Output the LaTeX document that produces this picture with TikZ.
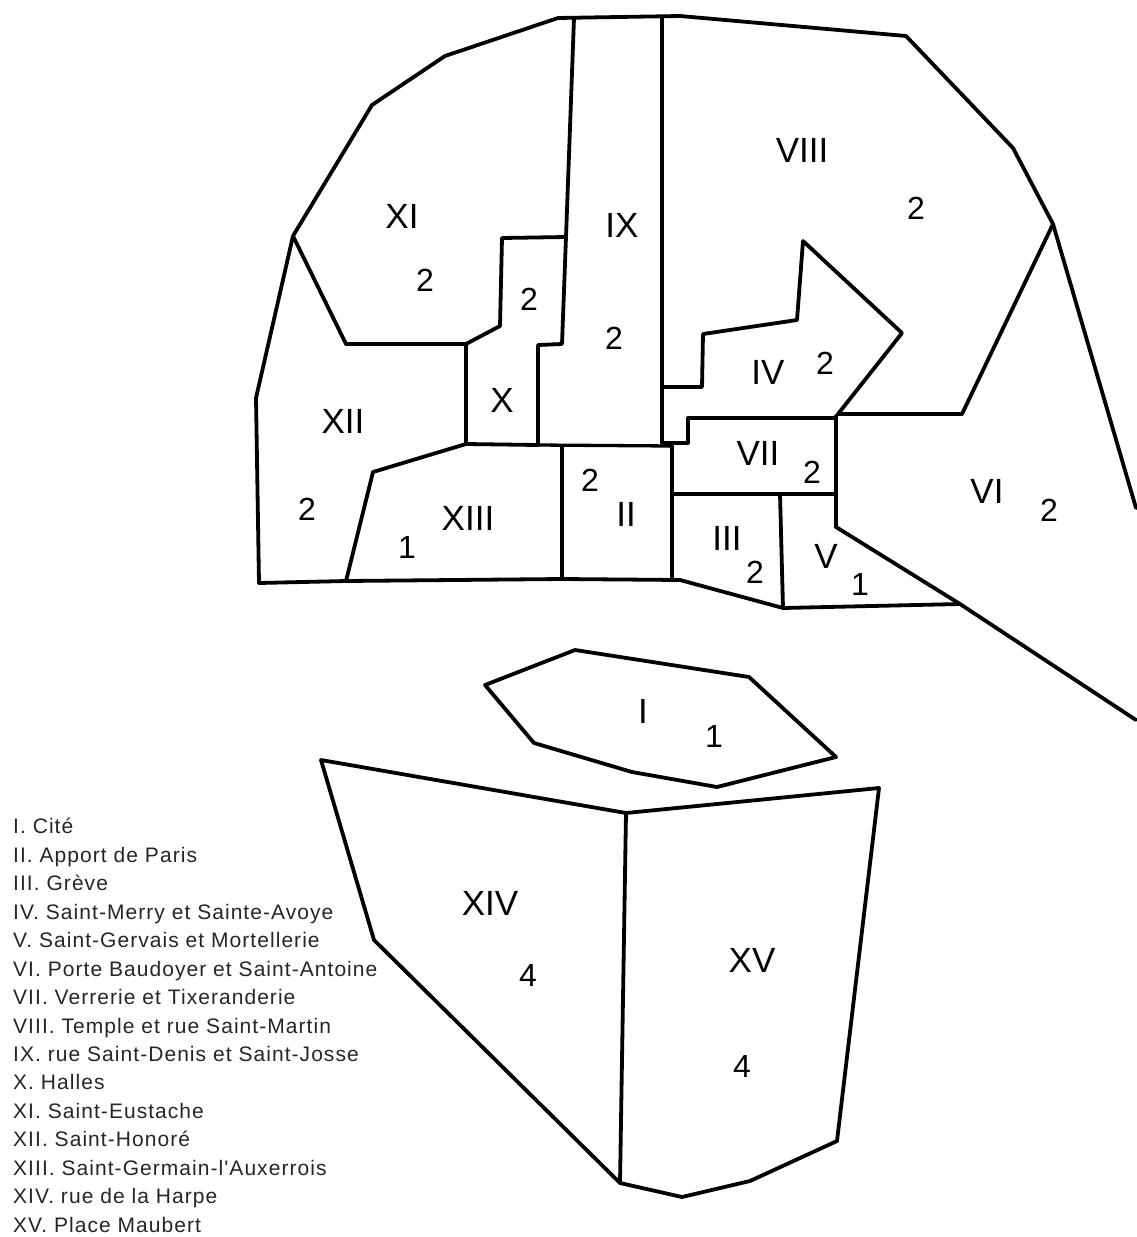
\documentclass[tikz,border=0pt]{standalone}
\usepackage{fontspec}
\setmainfont{Liberation Sans}
\newfontfamily\legendfont[LetterSpace=5]{Liberation Sans}
\tikzset{x=1pt,y=-1pt,
 wall/.style={draw=black,line width=3.8pt,line join=round,line cap=round},
 thinwall/.style={draw=black,line width=3.3pt,line join=round,line cap=round},
 lab/.style={font=\fontsize{35}{38}\selectfont,inner sep=0pt},
 num/.style={font=\fontsize{32}{35}\selectfont,inner sep=0pt},
 legend/.style={font=\legendfont\fontsize{21}{24}\selectfont,inner sep=0pt,anchor=base west,text=black!85}}
\begin{document}
\begin{tikzpicture}
\useasboundingbox[fill=white] (0,0) rectangle (1136,1237);
% main outline
\draw[wall] (346,344) -- (293,236) -- (372,105) -- (445,56) -- (558,18) -- (680,16) -- (906,36) -- (1013,148) -- (1053,224) -- (1136,508);
\draw[wall] (293,236) -- (256,398) -- (259,583) -- (346,581) -- (562,579) -- (680,580) -- (783,608) -- (960,604);
\draw[wall] (836,527) -- (960,604) -- (1136,720);
% XI / XII / X
\draw[wall] (346,344) -- (466,344);
\draw[wall] (466,344) -- (466,444) -- (538,445);
\draw[wall] (466,344) -- (500,326) -- (502,238) -- (566,237);
\draw[wall] (574,18) -- (566,237) -- (562,344) -- (538,345) -- (538,445);
% XIII
\draw[wall] (346,581) -- (373,472) -- (466,444);
\draw[thinwall] (538,445) -- (672,446);
\draw[thinwall] (562,446) -- (562,579);
% IX / VIII
\draw[thinwall] (662,18) -- (662,443);
% IV
\draw[wall] (662,387) -- (702,387) -- (703,334) -- (797,320) -- (803,241) -- (902,333) -- (838,414);
\draw[thinwall] (662,443) -- (688,443) -- (688,418) -- (836,418);
% VI
\draw[thinwall] (838,414) -- (962,414);
\draw[wall] (962,414) -- (1053,224);
\draw[wall] (836,416) -- (836,527);
% VII, III, V
\draw[thinwall] (672,443) -- (672,580);
\draw[thinwall] (672,494) -- (836,494);
\draw[wall] (780,494) -- (783,608);
% island I
\draw[wall] (485,685) -- (575,650) -- (749,677) -- (836,757) -- (717,787) -- (632,772) -- (534,743) -- cycle;
% south bank
\draw[wall] (321,760) -- (626,813) -- (879,788) -- (837,1141) -- (750,1181) -- (682,1197) -- (620,1183) -- (374,940) -- cycle;
\draw[wall] (626,813) -- (620,1183);
% district labels
\node[lab] (l8) at (802,150) {VIII};
\node[num] (n8) at (916,208) {2};
\node[lab] (l9) at (622,225) {IX};
\node[num] (n9) at (614,338) {2};
\node[lab] (l11) at (402,216) {XI};
\node[num] (n11) at (425,280) {2};
\node[num] (n10) at (529,299) {2};
\node[lab] (l10) at (502,400) {X};
\node[lab] (l12) at (343,421) {XII};
\node[num] (n12) at (307,509) {2};
\node[lab] (l13) at (468,518) {XIII};
\node[num] (n13) at (407,547) {1};
\node[num] (n2) at (590,480) {2};
\node[lab] (l2) at (626,514) {II};
\node[lab] (l4) at (768,372) {IV};
\node[num] (n4) at (825,363) {2};
\node[lab] (l7) at (758,453) {VII};
\node[num] (n7) at (812,472) {2};
\node[lab] (l3) at (727,538) {III};
\node[num] (n3) at (755,572) {2};
\node[lab] (l5) at (826,556) {V};
\node[num] (n5) at (860,584) {1};
\node[lab] (l6) at (987,491) {VI};
\node[num] (n6) at (1049,510) {2};
\node[lab] (l1) at (643,711) {I};
\node[num] (n1) at (714,736) {1};
\node[lab] (l14) at (490,903) {XIV};
\node[num] (n14) at (528,975) {4};
\node[lab] (l15) at (752,960) {XV};
\node[num] (n15) at (742,1066) {4};
% legend
\node[legend] (t1) at (13,833) {I.\ Cité};
\node[legend] (t2) at (13,862) {II.\ Apport de Paris};
\node[legend] (t3) at (13,890) {III.\ Grève};
\node[legend] (t4) at (13,919) {IV.\ Saint-Merry et Sainte-Avoye};
\node[legend] (t5) at (13,947) {V.\ Saint-Gervais et Mortellerie};
\node[legend] (t6) at (13,976) {VI.\ Porte Baudoyer et Saint-Antoine};
\node[legend] (t7) at (13,1004) {VII.\ Verrerie et Tixeranderie};
\node[legend] (t8) at (13,1033) {VIII.\ Temple et rue Saint-Martin};
\node[legend] (t9) at (13,1061) {IX.\ rue Saint-Denis et Saint-Josse};
\node[legend] (t10) at (13,1089) {X.\ Halles};
\node[legend] (t11) at (13,1118) {XI.\ Saint-Eustache};
\node[legend] (t12) at (13,1146) {XII.\ Saint-Honoré};
\node[legend] (t13) at (13,1175) {XIII.\ Saint-Germain-l'Auxerrois};
\node[legend] (t14) at (13,1203) {XIV.\ rue de la Harpe};
\node[legend] (t15) at (13,1232) {XV.\ Place Maubert};
\end{tikzpicture}
\end{document}
